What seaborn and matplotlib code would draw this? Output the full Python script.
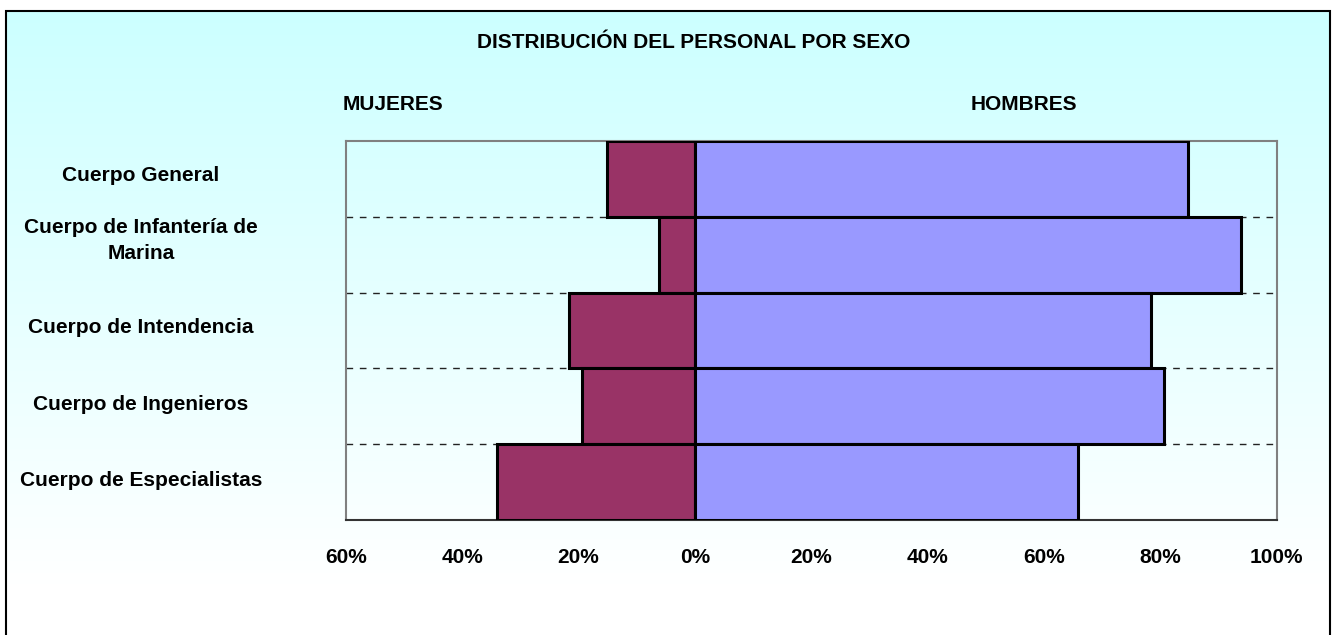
import numpy as np
import pandas as pd
import matplotlib
matplotlib.use("Agg")
import matplotlib.pyplot as plt
import matplotlib.transforms as mtransforms
from matplotlib.patches import Rectangle
from matplotlib.colors import LinearSegmentedColormap
from matplotlib.ticker import FuncFormatter
import seaborn as sns

# ---- data ----
categories = ["Cuerpo General", "Cuerpo de Infantería de\nMarina", "Cuerpo de Intendencia",
              "Cuerpo de Ingenieros", "Cuerpo de Especialistas"]
mujeres = [15.2, 6.1, 21.6, 19.4, 34.1]
hombres = [84.8, 93.9, 78.4, 80.6, 65.9]
x_ticks = [-60, -40, -20, 0, 20, 40, 60, 80, 100]
title = "DISTRIBUCIÓN DEL PERSONAL POR SEXO"
series_labels = ["MUJERES", "HOMBRES"]

df = pd.DataFrame({"Cuerpo": categories,
                   "Mujeres": [-v for v in mujeres],
                   "Hombres": hombres})

sns.set_theme(style="white")
plt.rcParams["font.family"] = ["Liberation Sans", "DejaVu Sans"]
plt.rcParams["font.weight"] = "bold"
plt.rcParams["text.color"] = "black"
plt.rcParams["xtick.color"] = "black"
plt.rcParams["xtick.labelcolor"] = "black"

W, H = 1332, 635
fig = plt.figure(figsize=(W / 100, H / 100), dpi=100)
fig.patch.set_facecolor("white")

# background gradient
bg = fig.add_axes([0, 0, 1, 1], zorder=-10)
bg.set_axis_off()
top_px, bot_px = 11, 585
grad = np.linspace(0, 1, 256).reshape(-1, 1)
cmap = LinearSegmentedColormap.from_list("g", ["#CCFFFF", "#FFFFFF"])
bg.imshow(grad, aspect="auto", cmap=cmap,
          extent=[6 / W, 1330 / W, 1 - bot_px / H, 1 - top_px / H])
bg.set_xlim(0, 1)
bg.set_ylim(0, 1)
fig.patches.append(Rectangle((6 / W, -0.05), (1330 - 6) / W, 1.05 - top_px / H,
                             transform=fig.transFigure, fill=False,
                             edgecolor="black", linewidth=1.5, zorder=5))

left, right, top, bottom = 346, 1276.5, 141, 520
ax = fig.add_axes([left / W, 1 - bottom / H, (right - left) / W, (bottom - top) / H])
ax.set_facecolor("none")

sns.barplot(data=df, x="Mujeres", y="Cuerpo", orient="h", color="#993366",
            saturation=1, edgecolor="black", linewidth=2.2, width=1.0, ax=ax, zorder=3)
sns.barplot(data=df, x="Hombres", y="Cuerpo", orient="h", color="#9999FF",
            saturation=1, edgecolor="black", linewidth=2.2, width=1.0, ax=ax, zorder=3)

ax.set_xlim(-60, 100)
ax.set_ylim(len(categories) - 0.5, -0.5)
ax.set_xticks(x_ticks)
ax.xaxis.set_major_formatter(FuncFormatter(lambda v, p: f"{abs(int(round(v)))}%"))
ax.set_xlabel("")
ax.set_ylabel("")
ax.set_yticks(range(len(categories)))
ax.set_yticklabels([])
ax.tick_params(axis="y", length=0)
ax.tick_params(axis="x", direction="out", length=6, width=1, color="#333333",
               pad=14, labelsize=15, labelcolor="black")
for lab in ax.get_xticklabels():
    lab.set_fontweight("bold")

ax.set_yticks([i + 0.5 for i in range(len(categories) - 1)], minor=True)
ax.yaxis.grid(True, which="minor", color="#222222", linewidth=1,
              linestyle=(0, (4.8, 4.8)))
ax.set_axisbelow(True)
ax.tick_params(axis="y", which="minor", length=0)

for s in ["left", "right", "top"]:
    ax.spines[s].set_color("#808080")
    ax.spines[s].set_linewidth(1.5)
    ax.spines[s].set_visible(True)
ax.spines["bottom"].set_color("#333333")
ax.spines["bottom"].set_linewidth(1.5)
ax.spines["bottom"].set_visible(True)

# category labels
trans = mtransforms.blended_transform_factory(fig.transFigure, ax.transData)
offsets = [-3, -14, -3, -2, -2]
for i, (cat, off) in enumerate(zip(categories, offsets)):
    t = trans + mtransforms.ScaledTranslation(0, -off / 100, fig.dpi_scale_trans)
    ax.text(141 / W, i, cat, transform=t, ha="center", va="center",
            multialignment="center", fontsize=15, fontweight="bold",
            linespacing=1.5, color="black")

fig.text(694 / W, 1 - 43 / H, title, ha="center", va="center",
         fontsize=15, fontweight="bold", color="black")
fig.text(393 / W, 1 - 105 / H, series_labels[0], ha="center", va="center",
         fontsize=15, fontweight="bold", color="black")
fig.text(1024 / W, 1 - 105 / H, series_labels[1], ha="center", va="center",
         fontsize=15, fontweight="bold", color="black")

fig.savefig("out.png", dpi=100)
